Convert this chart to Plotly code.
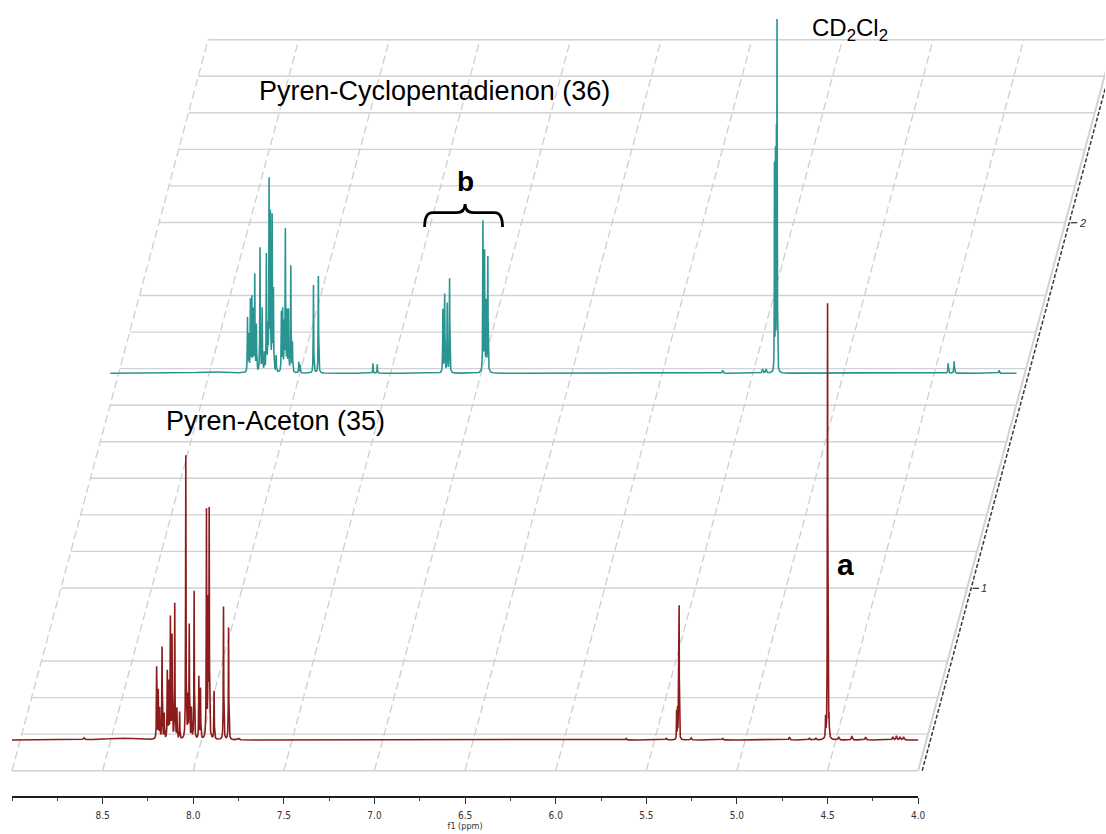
import numpy as np
import plotly.graph_objects as go

# ---------------- spectra: line lists (ppm, intensity, half width in ppm) ----------------
# Pyren-Aceton (35)
aceton_ppm = [8.603, 8.40, 8.202, 8.193, 8.185, 8.172, 8.160, 8.143, 8.135, 8.126, 8.117,
              8.102, 8.090, 8.075, 8.041, 8.030, 8.022, 8.010, 7.995, 7.969, 7.960, 7.927,
              7.918, 7.912, 7.885, 7.833, 7.805, 7.75, 5.611, 5.390, 5.3330, 5.3280, 5.3230,
              5.3190, 5.253, 5.079, 4.711, 4.600, 4.565, 4.511, 4.500, 4.492, 4.439, 4.366,
              4.290, 4.140, 4.120, 4.100, 4.080]
aceton_int = [2, 2, 72, 48, 30, 92, 25, 67, 55, 120, 102,
              135, 30, 27, 283, 40, 113, 30, 148, 62, 50, 227,
              130, 225, 48, 133, 112, 1.5, 1.5, 2, 28, 30, 50,
              132, 2, 1.5, 3, 2, 2, 20, 436, 18, 3, 4,
              3, 3, 4, 3, 3]
aceton_hw = [0.004, 0.08] + [0.0013] * 25 + [0.004] + [0.003] * 2 + [0.0009] * 4 + \
            [0.003] * 5 + [0.0012] * 3 + [0.003] * 7

# Pyren-Cyclopentadienon (36)
cpd_ppm = [8.45, 8.243, 8.236, 8.227, 8.219, 8.211, 8.203, 8.194, 8.174, 8.162, 8.150,
           8.139, 8.131, 8.124, 8.117, 8.107, 8.100, 8.085, 8.056, 8.049, 8.041, 8.034,
           8.025, 8.017, 8.004, 7.995, 7.960, 7.952, 7.879, 7.852, 7.551, 7.527, 7.165,
           7.155, 7.141, 7.128, 6.944, 6.935, 6.926, 6.917, 5.621, 5.401, 5.382, 5.3355,
           5.3300, 5.3245, 5.3214, 5.3186, 4.377, 4.344, 4.096]
cpd_int = [1.5, 54, 36, 71, 73, 60, 96, 46, 124, 63, 18,
           116, 40, 187, 153, 153, 79, 16, 59, 61, 46, 141,
           59, 61, 106, 29, 11, 8, 88, 97, 10, 9, 63,
           78, 69, 94, 150, 119, 69, 115, 3, 4, 4, 205,
           215, 222, 335, 40, 10, 12, 3]
cpd_hw = [0.08] + [0.0013] * 39 + [0.003] * 3 + [0.0008] * 5 + [0.002] * 3

spectrum_names = ["Pyren-Aceton (35)", "Pyren-Cyclopentadienon (36)"]
spectrum_colors = ["#8C1C1C", "#2A9590"]

# stacked-plot z axis
z_ticks = [1, 2]

# ---------------- geometry of the stacked view (layout pixels) ----------------
W, H = 1112, 834
PX_PER_PPM = 182.384         # horizontal scale
AX_RIGHT_PX = 924.0          # column of 4.0 ppm
FRONT_PX = 770.7             # row of the front edge of the floor
SKEW = 0.270                 # horizontal shift per unit of depth
ROW = 36.55                  # spacing of the floor lines
N_ROWS = 20
SKIP_ROWS = {4, 14}
STACK_DX = 98.93             # offset of the rear spectrum
BASE_V = [30.7, 397.4]       # baseline heights of the two spectra
Z_V = {1: 182.4, 2: 548.0}   # z tick positions

X_LEFT = 4 + AX_RIGHT_PX / PX_PER_PPM
X_RIGHT = 4 - (W - AX_RIGHT_PX) / PX_PER_PPM
SKEW_PPM = SKEW / PX_PER_PPM


def fx(x):
    return x / W


def fy(y):
    return 1 - y / H


def spectrum(centers, heights, hws):
    grid = np.linspace(9.0, 4.0, 12501)
    grid = np.unique(np.concatenate([grid, np.asarray(centers)]))[::-1]
    y = np.zeros_like(grid)
    for c, h, w in zip(centers, heights, hws):
        y += h / (1.0 + ((grid - c) / w) ** 2)
    return grid, y


fig = go.Figure()

# ---------------- floor grid ----------------
depth_max = N_ROWS * ROW
hx, hy = [], []
for k in range(N_ROWS + 1):
    if k in SKIP_ROWS:
        continue
    d = k * ROW
    hx += [9.0 - d * SKEW_PPM, 4.0 - d * SKEW_PPM, None]
    hy += [d, d, None]
fig.add_trace(go.Scatter(x=hx, y=hy, mode="lines", line=dict(color="#d2d2d2", width=1.4),
                         hoverinfo="skip", showlegend=False))

dx, dy = [], []
for p in np.arange(9.0, 4.25, -0.5):
    dx += [p, p - depth_max * SKEW_PPM, None]
    dy += [0, depth_max, None]
fig.add_trace(go.Scatter(x=dx, y=dy, mode="lines",
                         line=dict(color="#cfcfcf", width=1.3, dash="8px,4px"),
                         hoverinfo="skip", showlegend=False))
fig.add_trace(go.Scatter(x=[4.0, 4.0 - 800 * SKEW_PPM], y=[0, 800], mode="lines",
                         line=dict(color="#d2d2d2", width=2),
                         hoverinfo="skip", showlegend=False))

# ---------------- z axis ----------------
z0 = 4.0 - 4.02 / PX_PER_PPM
fig.add_trace(go.Scatter(x=[z0, z0 - 800 * SKEW_PPM], y=[0, 800], mode="lines",
                         line=dict(color="#3a3a3a", width=1.5, dash="4px,2px"),
                         hoverinfo="skip", showlegend=False))
tx, ty = [], []
for z in z_ticks:
    v = Z_V[z]
    xa = z0 - v * SKEW_PPM
    tx += [xa - 1.5 / PX_PER_PPM, xa - 8.04 / PX_PER_PPM, None]
    ty += [v, v, None]
    fig.add_annotation(x=xa - 13.07 / PX_PER_PPM, y=v, xref="x", yref="y", text=f"<i>{z}</i>",
                       showarrow=False, font=dict(family="Liberation Sans", size=11, color="#333"),
                       xanchor="center", yanchor="middle")
fig.add_trace(go.Scatter(x=tx, y=ty, mode="lines", line=dict(color="#3a3a3a", width=1.3),
                         hoverinfo="skip", showlegend=False))

# ---------------- spectra (rear first) ----------------
data = [(aceton_ppm, aceton_int, aceton_hw), (cpd_ppm, cpd_int, cpd_hw)]
for i in [1, 0]:
    ppm, inten = spectrum(*data[i])
    shift = i * STACK_DX / PX_PER_PPM
    fig.add_trace(go.Scatter(x=ppm - shift, y=inten + BASE_V[i], mode="lines",
                             name=spectrum_names[i],
                             line=dict(color=spectrum_colors[i], width=1.6),
                             hoverinfo="skip", showlegend=False))

# carrier for the ppm axis
fig.add_trace(go.Scatter(x=[9.0, 4.0], y=[None, None], xaxis="x2", yaxis="y",
                         mode="lines", hoverinfo="skip", showlegend=False))

# ---------------- labels ----------------
title_font = dict(family="Liberation Sans", size=27, color="#000")
fig.add_annotation(x=fx(258.4), y=fy(91), xref="paper", yref="paper",
                   text="Pyren-Cyclopentadienon (36)", showarrow=False,
                   xanchor="left", yanchor="middle", font=title_font)
fig.add_annotation(x=fx(164.9), y=fy(421), xref="paper", yref="paper",
                   text="Pyren-Aceton (35)", showarrow=False,
                   xanchor="left", yanchor="middle", font=title_font)
fig.add_annotation(x=fx(815.4), y=fy(29), xref="paper", yref="paper",
                   text="CD<sub>2</sub>Cl<sub>2</sub>", showarrow=False,
                   xanchor="left", yanchor="middle", font=dict(family="Liberation Sans", size=24, color="#000"))
fig.add_annotation(x=fx(468.5), y=fy(181), xref="paper", yref="paper", text="<b>b</b>",
                   showarrow=False, xanchor="center", yanchor="middle",
                   font=dict(family="Liberation Sans", size=28, color="#000"))
fig.add_annotation(x=fx(850.6), y=fy(564), xref="paper", yref="paper", text="<b>a</b>",
                   showarrow=False, xanchor="center", yanchor="middle",
                   font=dict(family="Liberation Sans", size=30, color="#000"))

# curly brace over the b signals
pts = [(427.3, 227), (427.3, 212.7), (435.3, 212.7), (459.5, 212.7), (468.0, 212.7), (468.0, 204),
       (468.0, 212.7), (476.6, 212.7), (497.7, 212.7), (505.7, 212.7), (505.7, 227)]
P = [f"{fx(x):.5f},{fy(y):.5f}" for x, y in pts]
path = (f"M {P[0]} Q {P[1]} {P[2]} L {P[3]} Q {P[4]} {P[5]} "
        f"Q {P[6]} {P[7]} L {P[8]} Q {P[9]} {P[10]}")
fig.add_shape(type="path", path=path, xref="paper", yref="paper",
              line=dict(color="#000", width=2.8))

fig.update_layout(
    width=W, height=H, autosize=False,
    margin=dict(l=0, r=0, t=0, b=0),
    paper_bgcolor="white", plot_bgcolor="rgba(0,0,0,0)",
    hovermode=False, showlegend=False,
    xaxis=dict(domain=[0, 1], range=[X_LEFT, X_RIGHT], visible=False),
    yaxis=dict(domain=[0, 1], range=[-(H - FRONT_PX), FRONT_PX], visible=False),
    xaxis2=dict(domain=[fx(AX_RIGHT_PX - 5 * PX_PER_PPM), fx(AX_RIGHT_PX)], range=[9.0, 4.0],
                anchor="free", position=(H - 797) / H,
                showline=True, linecolor="#1e1e1e", linewidth=2.2,
                ticks="outside", ticklen=6, tickwidth=1.4, tickcolor="#333",
                tickvals=[8.5, 8.0, 7.5, 7.0, 6.5, 6.0, 5.5, 5.0, 4.5, 4.0],
                tickformat=".1f", tickfont=dict(family="DejaVu Sans Condensed", size=10, color="#333"),
                ticklabelstandoff=3,
                minor=dict(dtick=0.25, tick0=4.0, ticklen=3, tickwidth=1.2, tickcolor="#444", ticks="outside"),
                showgrid=False, zeroline=False,
                title=dict(text="f1 (ppm)", font=dict(family="DejaVu Sans Condensed", size=9, color="#333"),
                           standoff=1)),
)

fig.write_html("out.html", config={"responsive": False})
